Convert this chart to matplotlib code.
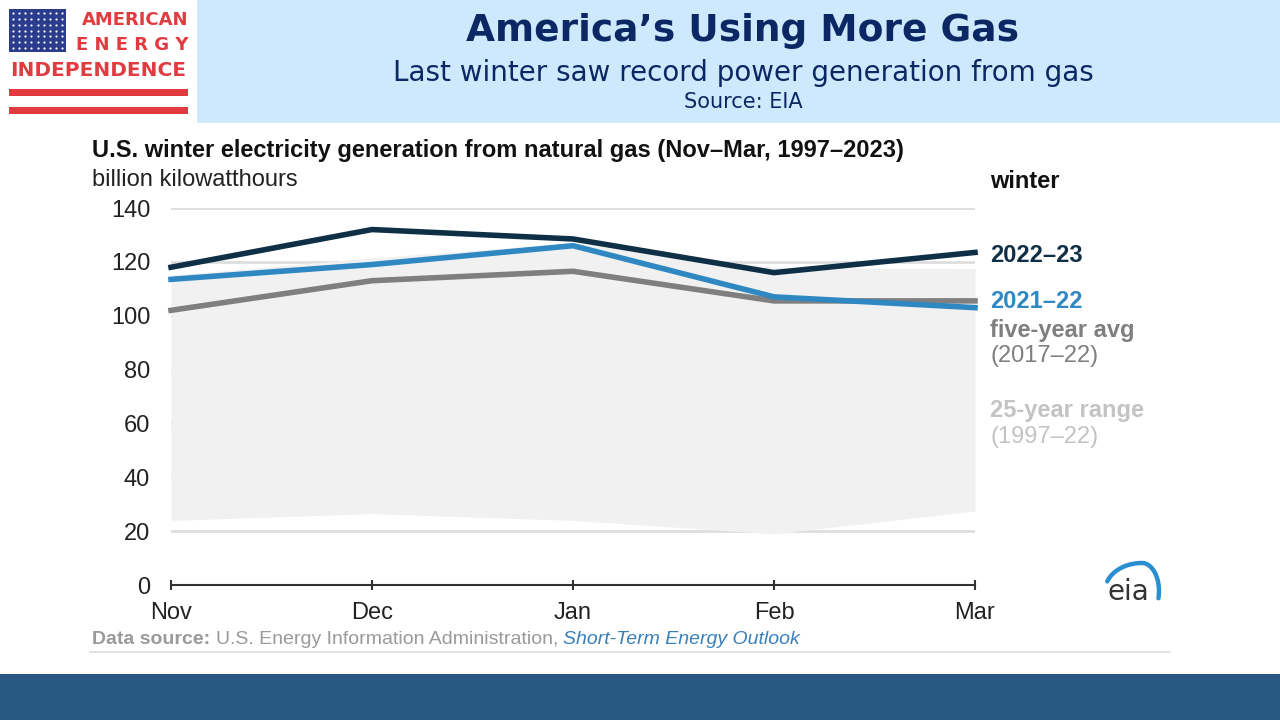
import numpy as np
import matplotlib
matplotlib.use('Agg')
import matplotlib.pyplot as plt
from matplotlib.patches import Rectangle

##############################################################################
# DATA
months = ['Nov', 'Dec', 'Jan', 'Feb', 'Mar']
winter_2022_23 = [118, 132, 128.5, 116, 123.5]
winter_2021_22 = [113.5, 119, 126, 107, 103]
five_year_avg = [102, 113, 116.5, 105.5, 105.5]
range_high = [115, 121.5, 127, 118, 117.5]
range_low = [24, 26.5, 24, 19, 27.5]
y_ticks = [0, 20, 40, 60, 80, 100, 120, 140]

title = 'America\u2019s Using More Gas'
subtitle = 'Last winter saw record power generation from gas'
source = 'Source: EIA'
chart_title = 'U.S. winter electricity generation from natural gas (Nov\u2013Mar, 1997\u20132023)'
units = 'billion kilowatthours'

##############################################################################
# COLOURS / FONTS
c_navy = '#0e2f45'
c_blue = '#2f88c2'
c_gray = '#7f7f7f'
c_range = '#f1f1f1'
c_grid = '#dedede'
c_red = '#e23b3f'
c_head = '#cde9fb'
c_bar = '#285784'
c_title = '#0b2864'
arial = ['Liberation Sans', 'DejaVu Sans']
fs = 17  # chart text size

W, H = 1280, 720

def fx(px):
    return px / W

def fy(py):
    return 1 - py / H

plt.rcParams['font.family'] = arial
fig = plt.figure(figsize=(12.8, 7.2), dpi=100)
fig.patch.set_facecolor('white')

# background axes in pixel coordinates (y downwards)
bg = fig.add_axes([0, 0, 1, 1], zorder=0)
bg.set_xlim(0, W)
bg.set_ylim(H, 0)
bg.axis('off')

# header band and bottom bar
bg.add_patch(Rectangle((197, 0), W - 197, 123, color=c_head, lw=0))
bg.add_patch(Rectangle((0, 674), W, H - 674, color=c_bar, lw=0))

# logo: flag, words, stripes
bg.add_patch(Rectangle((9, 9), 57, 43, color='#2b3c8c', lw=0))
sx, sy = np.meshgrid(np.linspace(13, 62, 9), np.linspace(13, 48, 7))
bg.scatter(sx.ravel(), sy.ravel(), s=2.5, color='white', lw=0)
bg.text(188, 20, 'AMERICAN', color=c_red, fontsize=13, fontweight='bold',
        ha='right', va='center', family=['DejaVu Sans'])
bg.text(188, 45, 'E N E R G Y', color=c_red, fontsize=13, fontweight='bold',
        ha='right', va='center', family=['DejaVu Sans'])
bg.text(98, 71, 'INDEPENDENCE', color=c_red, fontsize=14.5, fontweight='bold',
        ha='center', va='center', family=['DejaVu Sans'])
bg.add_patch(Rectangle((9, 89), 179, 7, color=c_red, lw=0))
bg.add_patch(Rectangle((9, 107), 179, 7, color=c_red, lw=0))

# header texts
bg.text(743, 31, title, color=c_title, fontsize=27, fontweight='bold',
        ha='center', va='center', family=['DejaVu Sans'])
bg.text(743, 73, subtitle, color=c_title, fontsize=20,
        ha='center', va='center', family=['DejaVu Sans'])
bg.text(743, 102, source, color=c_title, fontsize=15,
        ha='center', va='center', family=['DejaVu Sans'])

# chart title and units
bg.text(92, 151, chart_title, color='#111111', fontsize=fs, fontweight='bold',
        ha='left', va='center')
bg.text(92, 180, units, color='#222222', fontsize=fs, ha='left', va='center')

##############################################################################
# MAIN PLOT
ax = fig.add_axes([fx(171), fy(585), fx(975) - fx(171), fy(208) - fy(585)], zorder=1)
ax.patch.set_alpha(0)
x = np.arange(len(months))

ax.fill_between(x, range_low, range_high, color=c_range, lw=0, zorder=1)
ax.plot(x, five_year_avg, color=c_gray, lw=4, zorder=3, clip_on=False,
        solid_joinstyle='miter')
ax.plot(x, winter_2021_22, color=c_blue, lw=4, zorder=4, clip_on=False,
        solid_joinstyle='miter')
ax.plot(x, winter_2022_23, color=c_navy, lw=4, zorder=5, clip_on=False,
        solid_joinstyle='miter')

ax.set_xlim(0, len(months) - 1)
ax.set_ylim(0, 140)
ax.set_xticks(x)
ax.set_xticklabels(months)
ax.set_yticks(y_ticks)
ax.set_axisbelow(True)
ax.grid(axis='y', color=c_grid, lw=2)
for side in ['top', 'right', 'left']:
    ax.spines[side].set_visible(False)
ax.spines['bottom'].set_color('#333333')
ax.spines['bottom'].set_linewidth(1.5)
ax.tick_params(axis='x', direction='inout', length=7, width=1.5, color='#333333',
               labelsize=17, labelcolor='#222222', pad=9)
ax.tick_params(axis='y', length=0, labelsize=17, labelcolor='#222222', pad=15)

# right hand labels
bg.text(990, 181, 'winter', color='#111111', fontsize=fs, fontweight='bold', va='center')
bg.text(990, 256, '2022\u201323', color=c_navy, fontsize=fs, fontweight='bold', va='center')
bg.text(990, 301, '2021\u201322', color=c_blue, fontsize=fs, fontweight='bold', va='center')
bg.text(990, 330, 'five-year avg', color=c_gray, fontsize=fs, fontweight='bold', va='center')
bg.text(990, 356, '(2017\u201322)', color=c_gray, fontsize=fs, va='center')
bg.text(990, 410, '25-year range', color='#c3c3c3', fontsize=fs, fontweight='bold', va='center')
bg.text(990, 437, '(1997\u201322)', color='#c3c3c3', fontsize=fs, va='center')

# eia logo
bg.text(1128, 592, 'eia', color='#333333', fontsize=20, ha='center', va='center',
        family=['DejaVu Sans'])
t = np.radians(np.linspace(160, -15, 80))
rx = np.where(np.cos(t) < 0, 37, 17)
bg.plot(1142 + rx * np.cos(t), 591 - 28 * np.sin(t), color='#2a8fd0', lw=3.2,
        solid_capstyle='round')

# data source line, pieces chained one after another
renderer = fig.canvas.get_renderer()
pieces = [('Data source: ', '#9a9a9a', 'bold', 'normal'),
          ('U.S. Energy Information Administration, ', '#9a9a9a', 'normal', 'normal'),
          ('Short-Term Energy Outlook', '#3b80b8', 'normal', 'italic')]
xpos = 92
for txt, col, wt, st in pieces:
    tt = bg.text(xpos, 639, txt, color=col, fontsize=14, fontweight=wt, style=st,
                 ha='left', va='center')
    bb = tt.get_window_extent(renderer=renderer)
    xpos = bb.x1
bg.plot([90, 1170], [652, 652], color='#dddddd', lw=1.2)

plt.savefig('out.png', dpi=100)
plt.close()
